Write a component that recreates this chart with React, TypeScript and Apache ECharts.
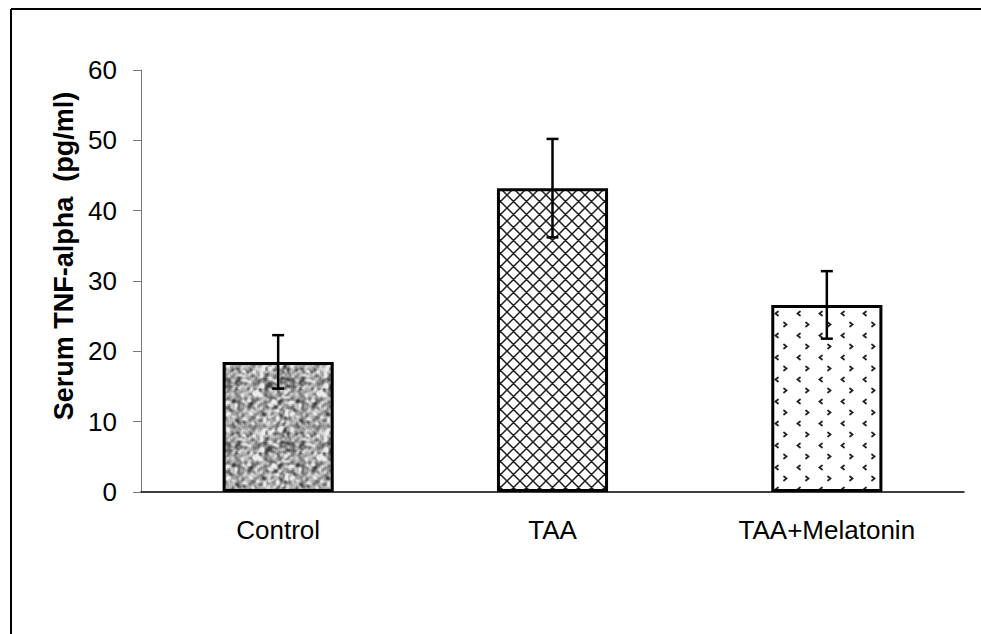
import React, { useEffect, useRef } from "react";
import * as echarts from "echarts";

const categories = ["Control", "TAA", "TAA+Melatonin"];
const means = [18.5, 43.2, 26.6];
const errors = [3.8, 7.0, 4.8];
const yTicks = { min: 0, max: 60, interval: 10 };
const yName = "Serum TNF-alpha  (pg/ml)";

function makeNoise(): HTMLCanvasElement {
  const s = 64;
  const c = document.createElement("canvas");
  c.width = s;
  c.height = s;
  const ctx = c.getContext("2d")!;
  let seed = 987654;
  const rnd = () => {
    seed = (seed * 1103515245 + 12345) & 0x7fffffff;
    return seed / 0x7fffffff;
  };
  let g = new Float32Array(s * s);
  for (let i = 0; i < s * s; i++) g[i] = rnd();
  for (let pass = 0; pass < 2; pass++) {
    const n = new Float32Array(s * s);
    for (let y = 0; y < s; y++)
      for (let x = 0; x < s; x++) {
        let sum = 0;
        for (let dy = -1; dy <= 1; dy++)
          for (let dx = -1; dx <= 1; dx++)
            sum += g[((y + dy + s) % s) * s + ((x + dx + s) % s)];
        n[y * s + x] = sum / 9;
      }
    g = n;
  }
  let mean = 0;
  for (let i = 0; i < s * s; i++) mean += g[i];
  mean /= s * s;
  let sd = 0;
  for (let i = 0; i < s * s; i++) sd += (g[i] - mean) ** 2;
  sd = Math.sqrt(sd / (s * s));
  const img = ctx.createImageData(s, s);
  for (let i = 0; i < s * s; i++) {
    let v = 165 + ((g[i] - mean) / sd) * 40;
    v = Math.max(65, Math.min(235, v));
    img.data[i * 4] = v;
    img.data[i * 4 + 1] = v;
    img.data[i * 4 + 2] = v;
    img.data[i * 4 + 3] = 255;
  }
  ctx.putImageData(img, 0, 0);
  return c;
}

function makeHatch(): HTMLCanvasElement {
  const t = 13;
  const c = document.createElement("canvas");
  c.width = t;
  c.height = t;
  const ctx = c.getContext("2d")!;
  ctx.fillStyle = "#fff";
  ctx.fillRect(0, 0, t, t);
  ctx.strokeStyle = "#1e1e1e";
  ctx.lineWidth = 1.5;
  ctx.beginPath();
  for (let i = -1; i <= 1; i++) {
    ctx.moveTo(i * t, 0);
    ctx.lineTo(i * t + t, t);
    ctx.moveTo(i * t, t);
    ctx.lineTo(i * t + t, 0);
  }
  ctx.stroke();
  return c;
}

function makeChevron(): HTMLCanvasElement {
  const t = 22;
  const c = document.createElement("canvas");
  c.width = t;
  c.height = t;
  const ctx = c.getContext("2d")!;
  ctx.fillStyle = "#fff";
  ctx.fillRect(0, 0, t, t);
  ctx.strokeStyle = "#222";
  ctx.lineWidth = 1.8;
  ctx.lineCap = "round";
  ctx.beginPath();
  ctx.moveTo(8, 3.5);
  ctx.lineTo(5.5, 5.5);
  ctx.lineTo(8, 7.5);
  ctx.moveTo(14, 14.5);
  ctx.lineTo(16.5, 16.5);
  ctx.lineTo(14, 18.5);
  ctx.stroke();
  return c;
}

export default function App() {
  const ref = useRef<HTMLDivElement>(null);
  useEffect(() => {
    document.body.style.margin = "0";
    const chart = echarts.init(ref.current!, null, { renderer: "svg" });
    const noise = makeNoise();
    const hatch = makeHatch();
    const chev = makeChevron();
    const patterns = [
      { image: noise, repeat: "repeat", imageWidth: 64, imageHeight: 64 },
      { image: hatch, repeat: "repeat", imageWidth: 13, imageHeight: 13 },
      { image: chev, repeat: "repeat", imageWidth: 22, imageHeight: 22 },
    ];
    const font = "'Liberation Sans', Arial, sans-serif";
    chart.setOption({
      animation: false,
      backgroundColor: "#fff",
      grid: { left: 141, right: 17, top: 70, bottom: 142 },
      graphic: [
        {
          type: "line",
          shape: { x1: 11, y1: 9, x2: 11, y2: 634 },
          style: { stroke: "#000", lineWidth: 2 },
        },
        {
          type: "line",
          shape: { x1: 11, y1: 9, x2: 981, y2: 9 },
          style: { stroke: "#000", lineWidth: 2 },
        },
        {
          type: "text",
          x: 64,
          y: 256,
          rotation: Math.PI / 2,
          style: {
            text: yName,
            fontSize: 27,
            fontWeight: "bold",
            fontFamily: font,
            fill: "#000",
            align: "center",
            verticalAlign: "middle",
          },
        },
      ],
      xAxis: {
        type: "category",
        data: categories,
        axisLine: { lineStyle: { color: "#000", width: 1.5 } },
        axisTick: { length: 8, lineStyle: { color: "#555" } },
        axisLabel: { fontSize: 26, color: "#000", fontFamily: font, margin: 25 },
      },
      yAxis: {
        type: "value",
        min: yTicks.min,
        max: yTicks.max,
        interval: yTicks.interval,
        splitLine: { show: false },
        axisLine: { show: true, lineStyle: { color: "#777", width: 1 } },
        axisTick: { show: true, length: 8, lineStyle: { color: "#777" } },
        axisLabel: { fontSize: 26, color: "#000", fontFamily: font, margin: 24 },
      },
      series: [
        {
          type: "bar",
          barWidth: "40.5%",
          data: means.map((v, i) => ({
            value: v,
            itemStyle: {
              color: patterns[i],
              borderColor: "#000",
              borderWidth: 3,
            },
          })),
        },
        {
          type: "custom",
          z: 5,
          data: means.map((m, i) => [i, m - errors[i], m + errors[i]]),
          renderItem: (params: any, api: any) => {
            const i = api.value(0);
            const lo = api.coord([i, api.value(1)]);
            const hi = api.coord([i, api.value(2)]);
            const hw = 6;
            const st = { stroke: "#000", lineWidth: 2.5 };
            return {
              type: "group",
              children: [
                { type: "line", shape: { x1: hi[0], y1: hi[1], x2: lo[0], y2: lo[1] }, style: st },
                { type: "line", shape: { x1: hi[0] - hw, y1: hi[1], x2: hi[0] + hw, y2: hi[1] }, style: st },
                { type: "line", shape: { x1: lo[0] - hw, y1: lo[1], x2: lo[0] + hw, y2: lo[1] }, style: st },
              ],
            };
          },
        },
      ],
    });
    return () => chart.dispose();
  }, []);
  return <div ref={ref} style={{ width: 981, height: 634 }} />;
}
